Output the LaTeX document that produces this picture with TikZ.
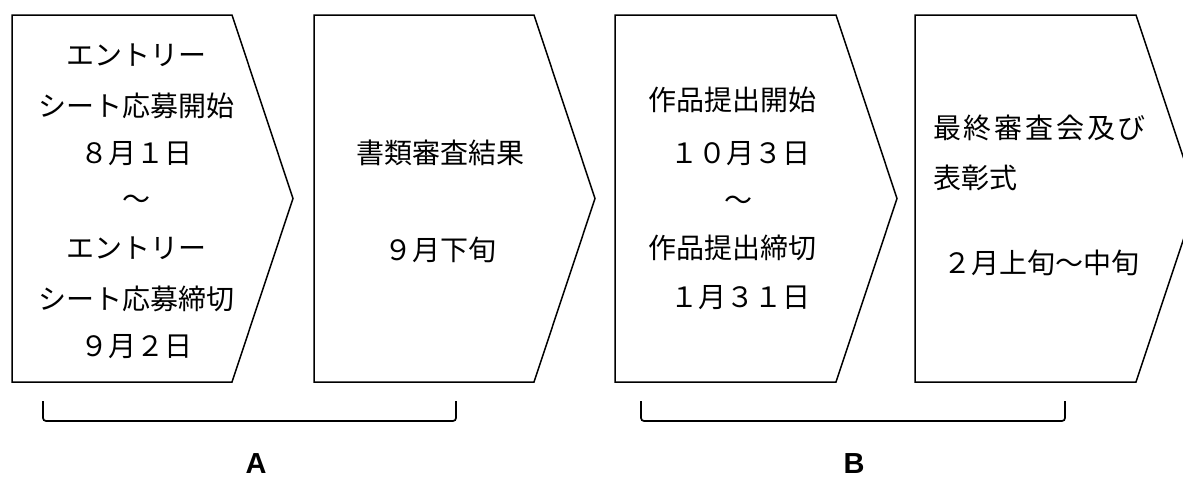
\documentclass[tikz,border=0pt]{standalone}
\usepackage{fontspec}
\setmainfont{Liberation Sans}
\newfontfamily\jp{Noto Sans CJK JP}
\newfontfamily\jpwide{Noto Sans CJK JP}[LetterSpace=10]
\begin{document}
\begin{tikzpicture}[x=1pt,y=-1pt,
  chev/.style={draw=black,line width=1.5pt,line join=miter},
  brk/.style={draw=black,line width=1.7pt,rounded corners=3pt},
  jt/.style={font=\jp\fontsize{28}{28}\selectfont,inner sep=0pt,text height=24.6pt,text depth=3.4pt},
  jtw/.style={font=\jpwide\fontsize{28}{28}\selectfont,inner sep=0pt,text height=24.6pt,text depth=3.4pt},
  lab/.style={font=\bfseries\fontsize{29}{29}\selectfont,inner sep=0pt,text depth=0pt,anchor=base}]
\useasboundingbox (0,0) rectangle (1183,479);
\clip (0,0) rectangle (1183,479);
% chevrons
\draw[chev] (12,15) -- (232,15) -- (293,198.5) -- (232,382) -- (12,382) -- cycle;
\draw[chev] (314,15) -- (534,15) -- (595,198.5) -- (534,382) -- (314,382) -- cycle;
\draw[chev] (615,15) -- (836,15) -- (897,198.5) -- (836,382) -- (615,382) -- cycle;
\draw[chev] (915,15) -- (1136,15) -- (1197,198.5) -- (1136,382) -- (915,382) -- cycle;
% step 1
\node[jt] (a1) at (136,55) {エントリー};
\node[jt] (a2) at (136,106) {シート応募開始};
\node[jt] (a3) at (136,153) {８月１日};
\node[jt] (a4) at (136,199) {～};
\node[jt] (a5) at (136,248) {エントリー};
\node[jt] (a6) at (136,299) {シート応募締切};
\node[jt] (a7) at (136,346) {９月２日};
% step 2
\node[jt] (b1) at (440,153) {書類審査結果};
\node[jt] (b2) at (440,250) {９月下旬};
% step 3
\node[jt] (c1) at (732,100) {作品提出開始};
\node[jt] (c2) at (740,153) {１０月３日};
\node[jt] (c3) at (738,200) {～};
\node[jt] (c4) at (732,248) {作品提出締切};
\node[jt] (c5) at (740,297) {１月３１日};
% step 4
\node[jtw,anchor=west] (d1) at (933,128) {最終審査会及び};
\node[jt,anchor=west] (d2) at (933,178) {表彰式};
\node[jt,anchor=west] (d3) at (943,263) {２月上旬～中旬};
% brackets
\coordinate (pa1) at (43,401);
\coordinate (pa2) at (456,401);
\coordinate (pb1) at (641,401);
\coordinate (pb2) at (1065,401);
\draw[brk] (pa1) -- ++(0,20) -| (pa2);
\draw[brk] (pb1) -- ++(0,20) -| (pb2);
\node[lab] (A) at (256,473) {A};
\node[lab] (B) at (854,473) {B};
\end{tikzpicture}
\end{document}
